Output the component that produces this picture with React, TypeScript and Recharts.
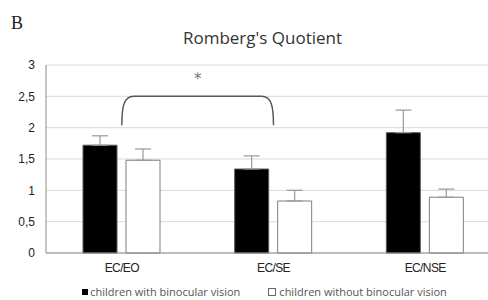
import React from 'react';
import { BarChart, Bar, XAxis, YAxis, CartesianGrid, ErrorBar, ReferenceLine, Legend } from 'recharts';

const categories = ['EC/EO', 'EC/SE', 'EC/NSE'];
const withBinocular = [1.72, 1.34, 1.92];
const withBinocularErr = [0.15, 0.21, 0.36];
const withoutBinocular = [1.48, 0.83, 0.89];
const withoutBinocularErr = [0.18, 0.17, 0.13];
const yTicks = [0, 0.5, 1, 1.5, 2, 2.5, 3];

const seriesNames = ['children with binocular vision', 'children without binocular vision'];

const chartData = categories.map((name, i) => ({
  name,
  withBin: withBinocular[i],
  withBinErr: [0, withBinocularErr[i]],
  withoutBin: withoutBinocular[i],
  withoutBinErr: [0, withoutBinocularErr[i]],
}));

const font = 'Liberation Sans, Arial, sans-serif';

// bracket over EC/EO – EC/SE with the star
const Bracket: React.FC<any> = ({ x1, y1, x2, y2 }) => {
  const drop = 29;
  const r = 12;
  const d = `M${x1},${y1 + drop} C${x1},${y1 + 10} ${x1 + 2},${y1} ${x1 + r},${y1} L${x2 - r},${y2} C${x2 - 2},${y2} ${x2},${y2 + 10} ${x2},${y2 + drop}`;
  return (
    <g>
      <path d={d} fill="none" stroke="#595959" strokeWidth={1.5} />
      <text x={(x1 + x2) / 2} y={y1 - 12} textAnchor="middle" fontSize={15} fill="#777" fontFamily="DejaVu Sans, sans-serif">
        *
      </text>
    </g>
  );
};

const LegendContent = () => (
  <div style={{ display: 'flex', justifyContent: 'center', fontFamily: 'Open Sans, sans-serif', fontSize: 11, lineHeight: '13px', color: '#555', paddingTop: 2, paddingLeft: 28 }}>
    <span style={{ display: 'flex', alignItems: 'center', marginRight: 28 }}>
      <span style={{ width: 6, height: 6, background: '#000', marginRight: 2 }} />
      {seriesNames[0]}
    </span>
    <span style={{ display: 'flex', alignItems: 'center' }}>
      <span style={{ width: 6, height: 6, background: '#fff', border: '1px solid #666', marginRight: 3 }} />
      {seriesNames[1]}
    </span>
  </div>
);

export default function App() {
  return (
    <div style={{ position: 'absolute', left: 0, top: 0, width: 488, height: 300, overflow: 'hidden', background: '#fff' }}>
      <div style={{ position: 'absolute', left: 11, top: 13, fontFamily: 'Liberation Serif, serif', fontSize: 18, color: '#222', lineHeight: 'normal' }}>B</div>
      <div style={{ position: 'absolute', left: 0, width: 525, top: 26, textAlign: 'center', fontFamily: 'Open Sans, sans-serif', fontSize: 17, color: '#333' }}>
        Romberg's Quotient
      </div>
      <BarChart
        width={502}
        height={300}
        data={chartData}
        margin={{ top: 65, right: 1, left: 0, bottom: 0 }}
        barSize={34}
        barGap={9}
      >
        <CartesianGrid vertical={false} stroke="#d9d9d9" />
        <XAxis
          dataKey="name"
          height={30}
          tickLine={false}
          tickMargin={4}
          axisLine={{ stroke: '#8c8c8c' }}
          tick={{ fill: '#222', fontSize: 12, fontFamily: font, letterSpacing: -0.6 }}
        />
        <YAxis
          width={46}
          domain={[0, 3]}
          ticks={yTicks}
          tickFormatter={(v: number) => String(v).replace('.', ',')}
          tickLine={false}
          tickMargin={5}
          axisLine={{ stroke: '#8c8c8c' }}
          tick={{ fill: '#222', fontSize: 12, fontFamily: font }}
        />
        <ReferenceLine
          segment={[{ x: 'EC/EO', y: 2.5 }, { x: 'EC/SE', y: 2.5 }]}
          shape={<Bracket />}
          ifOverflow="visible"
        />
        <Legend verticalAlign="bottom" height={17} content={<LegendContent />} />
        <Bar dataKey="withBin" name={seriesNames[0]} fill="#000" stroke="#595959" isAnimationActive={false}>
          <ErrorBar dataKey="withBinErr" direction="y" width={8} stroke="#999" strokeWidth={1.2} />
        </Bar>
        <Bar dataKey="withoutBin" name={seriesNames[1]} fill="#fff" stroke="#7f7f7f" isAnimationActive={false}>
          <ErrorBar dataKey="withoutBinErr" direction="y" width={8} stroke="#999" strokeWidth={1.2} />
        </Bar>
      </BarChart>
    </div>
  );
}
